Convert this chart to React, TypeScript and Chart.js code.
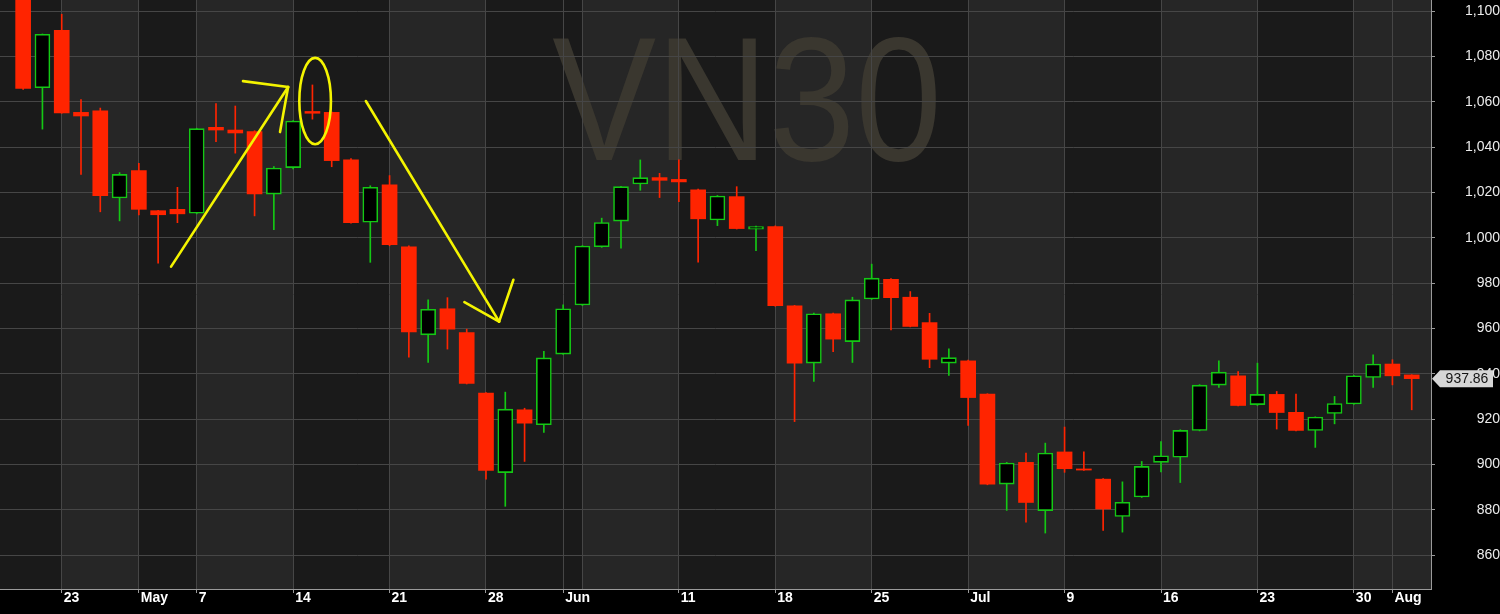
import React, { useEffect, useRef } from "react";
import { Chart, registerables } from "chart.js";

Chart.register(...registerables);

// ---- data (VN30 daily candles) ----
const dates = [
  "2018-04-19", "2018-04-20", "2018-04-23", "2018-04-24", "2018-04-26", "2018-04-27",
  "2018-05-02", "2018-05-03", "2018-05-04", "2018-05-07", "2018-05-08", "2018-05-09", "2018-05-10", "2018-05-11",
  "2018-05-14", "2018-05-15", "2018-05-16", "2018-05-17", "2018-05-18", "2018-05-21", "2018-05-22", "2018-05-23",
  "2018-05-24", "2018-05-25", "2018-05-28", "2018-05-29", "2018-05-30", "2018-05-31",
  "2018-06-01", "2018-06-04", "2018-06-05", "2018-06-06", "2018-06-07", "2018-06-08", "2018-06-11", "2018-06-12",
  "2018-06-13", "2018-06-14", "2018-06-15", "2018-06-18", "2018-06-19", "2018-06-20", "2018-06-21", "2018-06-22",
  "2018-06-25", "2018-06-26", "2018-06-27", "2018-06-28", "2018-06-29",
  "2018-07-02", "2018-07-03", "2018-07-04", "2018-07-05", "2018-07-06", "2018-07-09", "2018-07-10", "2018-07-11",
  "2018-07-12", "2018-07-13", "2018-07-16", "2018-07-17", "2018-07-18", "2018-07-19", "2018-07-20", "2018-07-23",
  "2018-07-24", "2018-07-25", "2018-07-26", "2018-07-27", "2018-07-30", "2018-07-31",
  "2018-08-01", "2018-08-02",
];
const openP = [
  1112, 1066.3, 1091.6, 1055.4, 1056.1, 1017.6, 1029.7, 1012, 1012.6, 1010.9, 1048.8, 1047.6, 1046.9, 1019.3,
  1031, 1055.8, 1055.4, 1034.4, 1006.9, 1023.4, 996, 957.2, 968.7, 958.2, 931.5, 896.4, 924.1, 917.5,
  948.7, 970.4, 996.1, 1007.4, 1023.8, 1026.6, 1025.8, 1021.2, 1007.9, 1018.2, 1003.8, 1005, 970, 944.7,
  966.5, 954.2, 973, 981.7, 973.8, 962.6, 944.7, 945.7, 931, 891.3, 900.9, 879.6, 905.5, 898,
  893.5, 877, 885.6, 900.9, 903.2, 915, 935, 939.1, 926.4, 930.9, 923, 915, 922.5, 926.7, 938.4,
  944.3, 939.5,
];
const highP = [
  1115, 1090, 1098.7, 1061, 1057.3, 1028.8, 1032.9, 1012.2, 1022.3, 1048.4, 1059.3, 1058.2, 1047.3, 1031.5,
  1051.8, 1067.5, 1055.6, 1035, 1023, 1027.5, 996.5, 972.6, 973.6, 959.7, 931.7, 931.9, 924.8, 949.9,
  970.4, 996.6, 1008.7, 1022.8, 1034.4, 1028.5, 1034.4, 1021.5, 1018.7, 1022.6, 1005.2, 1005.3, 970.2, 966.8,
  966.8, 973.8, 988.4, 982, 976.3, 966.7, 951, 946, 931.2, 900.9, 905, 909.4, 916.5, 905.5,
  893.7, 892.3, 901.3, 910.1, 915.3, 935.2, 945.7, 941, 944.7, 932.2, 931, 921, 930, 939.3, 948.4,
  946.2, 939.6,
];
const lowP = [
  1065.5, 1048, 1055, 1028, 1011.5, 1007.5, 1010.1, 988.8, 1006.7, 1010.6, 1042.5, 1037.4, 1009.7, 1003.6,
  1030.4, 1052.4, 1031.4, 1006.5, 989.2, 996.5, 947.3, 945, 950.9, 935.5, 893.5, 881.5, 901.3, 914.1,
  948.5, 970.1, 995.8, 995.4, 1021, 1017.8, 1016, 989.3, 1005.4, 1003.9, 994.4, 969.8, 918.9, 936.6,
  949.8, 945, 972.8, 959.4, 960.7, 942.7, 939.3, 917.2, 891, 879.7, 874.5, 869.7, 896.5, 897.3,
  870.9, 870.1, 885.4, 896.7, 892, 914.8, 934, 925.8, 926, 915.6, 914.8, 907.5, 917.9, 926.5, 934,
  935.1, 924.1,
];
const closeP = [
  1066, 1089.9, 1055.1, 1053.8, 1018.6, 1028, 1012.6, 1010.2, 1010.6, 1048.2, 1047.6, 1046.3, 1019.4, 1030.8,
  1051.6, 1055.0, 1034.1, 1006.7, 1022.3, 997, 958.5, 968.5, 959.7, 935.7, 897.3, 924.4, 918.2, 947,
  968.7, 996.4, 1006.8, 1022.6, 1026.6, 1025.4, 1024.7, 1008.4, 1018.5, 1004.1, 1005, 970.1, 944.7, 966.5,
  955.3, 972.6, 982.2, 973.6, 960.9, 946.4, 947.1, 929.5, 891.3, 900.6, 883.2, 905, 898.1, 897.5,
  880.3, 883.3, 899.1, 903.8, 915, 935, 940.7, 926, 930.9, 922.9, 915, 920.9, 926.9, 939.1, 944.3,
  939.1, 937.86,
];

// axis ticks (index into dates) and their labels
const xTickIdx = [2, 6, 9, 14, 19, 24, 28, 29, 34, 39, 44, 49, 54, 59, 64, 69, 71];
const xTickLabels = ["23", "May", "7", "14", "21", "28", "Jun", "", "11", "18", "25", "Jul", "9", "16", "23", "30", "Aug"];
const yTicks = [860, 880, 900, 920, 940, 960, 980, 1000, 1020, 1040, 1060, 1080, 1100];
const watermark = "VN30";

// hand-drawn annotations, in data coordinates [index, value]
const annoLines = [
  [[7.67, 987.3], [13.74, 1066.6]],
  [[11.4, 1069.2], [13.74, 1066.6]],
  [[13.32, 1046.7], [13.74, 1066.6]],
  [[17.77, 1060.4], [24.68, 963.0]],
  [[22.88, 971.6], [24.68, 963.0]],
  [[25.42, 981.5], [24.68, 963.0]],
];
const annoEllipse = { x: 15.14, y: 1060.4, rx: 0.82, ry: 19.06 };

const X_MIN = -1.2;
const X_MAX = 73.0;
const Y_MIN = 845;
const Y_MAX = 1105;

const RED = "#ff2400";
const GREEN = "#14c814";
const BAND_DARK = "#1a1a1a";
const BAND_LIGHT = "#262626";
const GRID = "#464646";
const AXIS = "#9a9a9a";
const FONT = '"Liberation Sans", Arial, sans-serif';

const weekKey = (d: string) => {
  const t = Date.parse(d + "T00:00:00Z");
  const wd = new Date(t).getUTCDay();
  return t - ((wd + 6) % 7) * 86400000;
};
const weekStarts = dates
  .map((_, i) => i)
  .filter((i) => i === 0 || weekKey(dates[i]) !== weekKey(dates[i - 1]));

export default function App() {
  const ref = useRef<HTMLCanvasElement>(null);

  useEffect(() => {
    document.body.style.margin = "0";
    document.body.style.background = "#000";
    const canvas = ref.current;
    if (!canvas) return;

    const isUp = (i: number) => closeP[i] >= openP[i];
    const bodies = dates.map((_, i) => ({ x: i, y: [openP[i], closeP[i]] }));
    const wicks = dates.map((_, i) => ({ x: i, y: [lowP[i], highP[i]] }));
    const candleColor = dates.map((_, i) => (isUp(i) ? GREEN : RED));
    const bodyFill = dates.map((_, i) => (isUp(i) ? "#000000" : RED));
    const bodyBorder = dates.map((_, i) => (isUp(i) ? 1.6 : 0));

    const bgPlugin = {
      id: "bgBands",
      beforeDraw(chart: any) {
        const { ctx, chartArea: a } = chart;
        const xs = chart.scales.x;
        ctx.save();
        ctx.fillStyle = "#000";
        ctx.fillRect(0, 0, chart.width, chart.height);
        for (let j = 0; j < weekStarts.length; j++) {
          const x0 = j === 0 ? a.left : xs.getPixelForValue(weekStarts[j]);
          const x1 = j + 1 < weekStarts.length ? xs.getPixelForValue(weekStarts[j + 1]) : a.right;
          ctx.fillStyle = j % 2 ? BAND_LIGHT : BAND_DARK;
          ctx.fillRect(x0, a.top, x1 - x0, a.bottom - a.top);
        }
        // watermark
        ctx.beginPath();
        ctx.rect(a.left, a.top, a.right - a.left, a.bottom - a.top);
        ctx.clip();
        ctx.fillStyle = "#3a372f";
        ctx.font = `normal 177px ${FONT}`;
        ctx.textAlign = "center";
        ctx.textBaseline = "alphabetic";
        ctx.translate(a.left + (a.right - a.left) * 0.522, a.top + (a.bottom - a.top) * 0.2716);
        ctx.scale(0.88, 1);
        ctx.fillText(watermark, 0, 0);
        ctx.restore();
      },
    };

    const annoPlugin = {
      id: "anno",
      afterDatasetsDraw(chart: any) {
        const { ctx } = chart;
        const xs = chart.scales.x;
        const ys = chart.scales.y;
        ctx.save();
        ctx.strokeStyle = "#f4f400";
        ctx.lineWidth = 2.6;
        ctx.lineCap = "round";
        for (const [p, q] of annoLines) {
          ctx.beginPath();
          ctx.moveTo(xs.getPixelForValue(p[0]), ys.getPixelForValue(p[1]));
          ctx.lineTo(xs.getPixelForValue(q[0]), ys.getPixelForValue(q[1]));
          ctx.stroke();
        }
        const cx = xs.getPixelForValue(annoEllipse.x);
        const cy = ys.getPixelForValue(annoEllipse.y);
        const rx = xs.getPixelForValue(annoEllipse.x + annoEllipse.rx) - cx;
        const ry = cy - ys.getPixelForValue(annoEllipse.y + annoEllipse.ry);
        ctx.beginPath();
        ctx.ellipse(cx, cy, rx, ry, 0, 0, Math.PI * 2);
        ctx.stroke();
        ctx.restore();
      },
      afterDraw(chart: any) {
        const { ctx, chartArea: a } = chart;
        const ys = chart.scales.y;
        const last = closeP[closeP.length - 1];
        const y = ys.getPixelForValue(last);
        const x0 = a.right + 1;
        ctx.save();
        ctx.fillStyle = "#d6d6d6";
        ctx.beginPath();
        ctx.moveTo(x0, y);
        ctx.lineTo(x0 + 8, y - 8.5);
        ctx.lineTo(x0 + 61, y - 8.5);
        ctx.lineTo(x0 + 61, y + 8.5);
        ctx.lineTo(x0 + 8, y + 8.5);
        ctx.closePath();
        ctx.fill();
        ctx.fillStyle = "#141414";
        ctx.font = `14px ${FONT}`;
        ctx.textAlign = "center";
        ctx.textBaseline = "middle";
        ctx.fillText(last.toFixed(2), x0 + 35, y + 0.5);
        ctx.restore();
      },
    };

    const chart = new Chart(canvas, {
      type: "bar",
      data: {
        datasets: [
          {
            label: "body",
            data: bodies as any,
            backgroundColor: bodyFill,
            borderColor: candleColor,
            borderWidth: bodyBorder,
            borderSkipped: false,
            barThickness: 15,
            minBarLength: 1,
            grouped: false,
            order: 0,
          } as any,
          {
            label: "wick",
            data: wicks as any,
            backgroundColor: candleColor,
            borderWidth: 0,
            barThickness: 1,
            grouped: false,
            order: 1,
          } as any,
        ],
      },
      plugins: [bgPlugin, annoPlugin],
      options: {
        animation: false,
        responsive: false,
        events: [],
        layout: { padding: 0 },
        plugins: { legend: { display: false }, tooltip: { enabled: false } },
        scales: {
          x: {
            type: "linear",
            position: "bottom",
            min: X_MIN,
            max: X_MAX,
            offset: false,
            afterBuildTicks: (scale: any) => {
              scale.ticks = xTickIdx.map((v) => ({ value: v }));
            },
            afterFit: (scale: any) => {
              scale.height = 25;
              scale.paddingLeft = 0;
              scale.paddingRight = 0;
            },
            grid: {
              offset: false,
              color: GRID,
              lineWidth: 1,
              drawTicks: true,
              tickLength: 4,
              tickColor: (c: any) => (c.tick && c.tick.label === "" ? "rgba(0,0,0,0)" : AXIS),
            },
            border: { display: true, color: AXIS, width: 1 },
            ticks: {
              autoSkip: false,
              maxRotation: 0,
              minRotation: 0,
              align: "start",
              labelOffset: 2,
              padding: -3,
              color: "#ffffff",
              font: { family: FONT, size: 14, weight: "bold" },
              callback: (v: any) => {
                const k = xTickIdx.indexOf(Number(v));
                return k >= 0 ? xTickLabels[k] : "";
              },
            },
          } as any,
          y: {
            type: "linear",
            position: "right",
            min: Y_MIN,
            max: Y_MAX,
            afterBuildTicks: (scale: any) => {
              scale.ticks = yTicks.map((v) => ({ value: v }));
            },
            afterFit: (scale: any) => {
              scale.width = 69;
              scale.paddingTop = 0;
              scale.paddingBottom = 0;
            },
            grid: {
              color: GRID,
              lineWidth: 1,
              drawTicks: true,
              tickLength: 4,
              tickColor: AXIS,
            },
            border: { display: true, color: AXIS, width: 1 },
            ticks: {
              crossAlign: "far",
              padding: 27,
              color: "#ececec",
              font: { family: FONT, size: 14 },
              callback: (v: any) => Number(v).toLocaleString("en-US"),
            },
          } as any,
        },
      },
    });
    return () => chart.destroy();
  }, []);

  return (
    <div style={{ width: 1500, height: 614, background: "#000" }}>
      <canvas ref={ref} width={1500} height={614} style={{ display: "block", width: 1500, height: 614 }} />
    </div>
  );
}
